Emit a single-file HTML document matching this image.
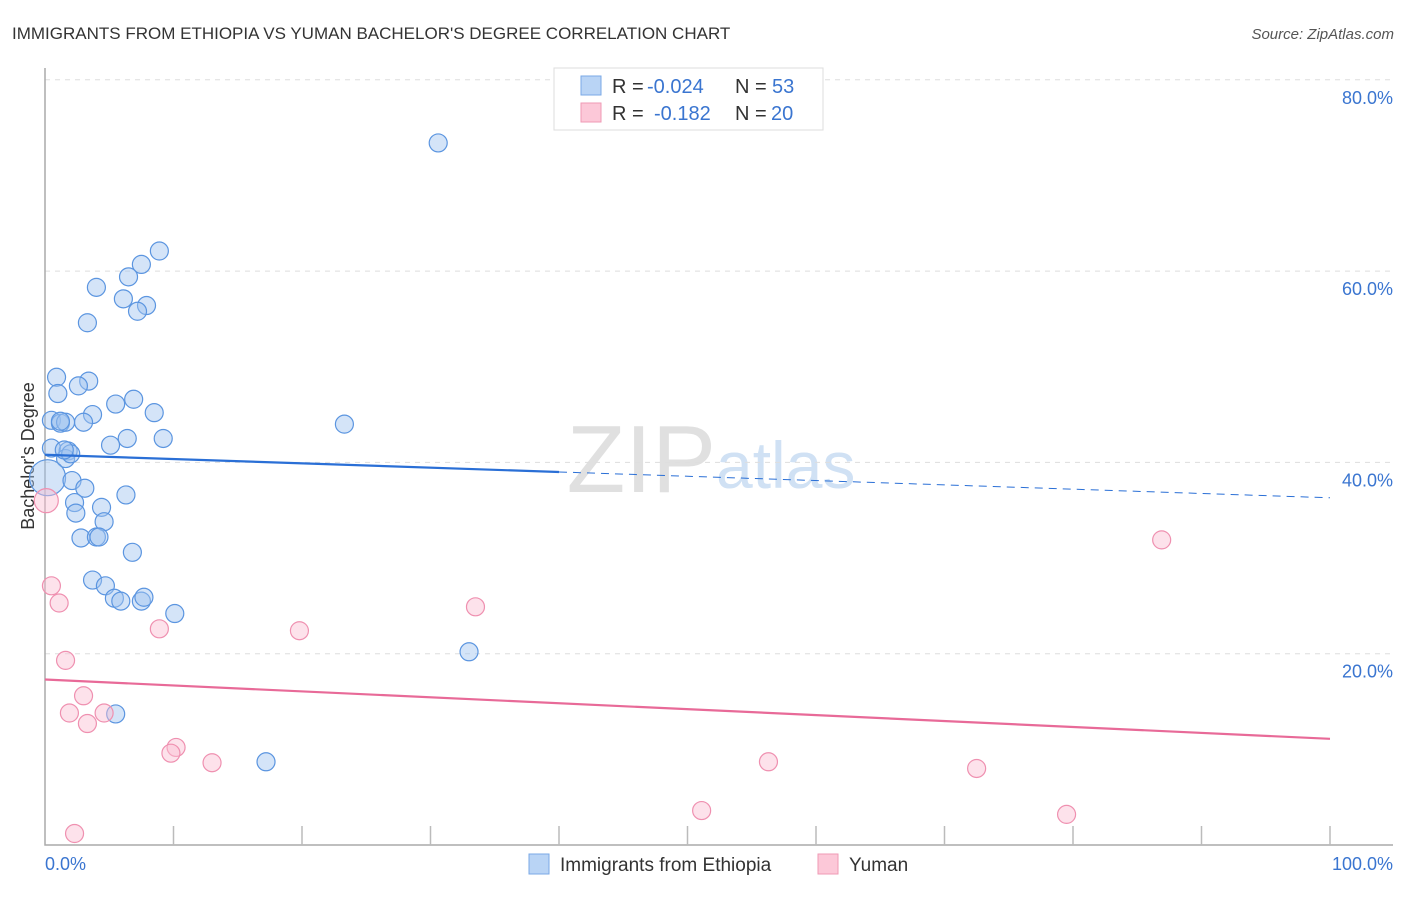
<!DOCTYPE html>
<html><head><meta charset="utf-8"><style>
body{margin:0;background:#fff;font-family:"Liberation Sans",sans-serif}
svg text{font-family:"Liberation Sans",sans-serif}
</style></head><body>
<svg id="c" width="1406" height="892" xmlns="http://www.w3.org/2000/svg">
<text x="12" y="39" font-size="17" fill="#333">IMMIGRANTS FROM ETHIOPIA VS YUMAN BACHELOR'S DEGREE CORRELATION CHART</text>
<text x="1394" y="39" font-size="15" fill="#555" text-anchor="end" font-style="italic">Source: ZipAtlas.com</text>
<text x="716" y="492" font-size="96" fill="#e0e0e0" text-anchor="end" font-family="Liberation Serif">ZIP</text>
<text x="716" y="488" font-size="66" fill="#d0e1f4">atlas</text>
<text transform="translate(34,456) rotate(-90)" font-size="18" fill="#333" text-anchor="middle">Bachelor's Degree</text>
<g id="grid"></g><g id="axes"></g><g id="pts"></g><g id="trend"></g>
<g>
<rect x="554" y="68" width="269" height="62" fill="#fff" stroke="#ddd"/>
<rect x="581" y="76" width="20" height="19" fill="#b9d4f5" stroke="#7aa8e6"/>
<rect x="581" y="103" width="20" height="19" fill="#fcc8d8" stroke="#ef9ab5"/>
<text y="93" font-size="20" fill="#333"><tspan x="612">R =</tspan><tspan x="647" fill="#3a75d0">-0.024</tspan><tspan x="735">N =</tspan><tspan x="772" fill="#3a75d0">53</tspan></text>
<text y="120" font-size="20" fill="#333"><tspan x="612">R =</tspan><tspan x="654" fill="#3a75d0">-0.182</tspan><tspan x="735">N =</tspan><tspan x="771" fill="#3a75d0">20</tspan></text>
</g>
<g>
<rect x="529" y="854" width="20" height="20" fill="#b9d4f5" stroke="#7aa8e6"/>
<text x="560" y="871" font-size="19" fill="#333">Immigrants from Ethiopia</text>
<rect x="818" y="854" width="20" height="20" fill="#fcc8d8" stroke="#ef9ab5"/>
<text x="849" y="871" font-size="19" fill="#333">Yuman</text>
</g>
</svg>
<script>
const yTicks=[20,40,60,80];
const yTickLabels=["20.0%","40.0%","60.0%","80.0%"];
const blueX=[30.6,8.9,7.5,6.5,4.0,6.1,7.9,7.2,3.3,0.9,3.4,2.6,1.0,5.5,6.9,8.5,3.7,3.0,0.5,1.2,1.6,9.2,6.4,5.1,23.3,0.5,1.8,1.6,0.2,2.1,3.1,6.3,2.3,4.4,2.4,4.6,2.8,4.0,4.2,6.8,3.7,4.7,5.4,5.9,7.5,7.7,10.1,33.0,5.5,17.2,1.2,2.0,1.5];
const blueY=[73.4,62.1,60.7,59.4,58.3,57.1,56.4,55.8,54.6,48.9,48.5,48.0,47.2,46.1,46.6,45.2,45.0,44.2,44.4,44.1,44.2,42.5,42.5,41.8,44.0,41.5,41.2,40.4,38.4,38.1,37.3,36.6,35.8,35.3,34.7,33.8,32.1,32.2,32.2,30.6,27.7,27.1,25.8,25.5,25.5,25.9,24.2,20.2,13.7,8.7,44.3,40.9,41.3];
const blueR=[9,9,9,9,9,9,9,9,9,9,9,9,9,9,9,9,9,9,9,9,9,9,9,9,9,9,9,9,18,9,9,9,9,9,9,9,9,9,9,9,9,9,9,9,9,9,9,9,9,9,9,9,9];
const pinkX=[0.1,0.5,1.1,1.6,8.9,19.8,33.5,3.0,1.9,3.3,4.6,10.2,9.8,13.0,56.3,72.5,51.1,79.5,2.3,86.9];
const pinkY=[36.0,27.1,25.3,19.3,22.6,22.4,24.9,15.6,13.8,12.7,13.8,10.2,9.6,8.6,8.7,8.0,3.6,3.2,1.2,31.9];
const pinkR=[12,9,9,9,9,9,9,9,9,9,9,9,9,9,9,9,9,9,9,9];
const blueTrend=[40.8,36.3];
const pinkTrend=[17.3,11.1];
const NS="http://www.w3.org/2000/svg";
const X=v=>45+v*12.85, Y=v=>845-v*9.565;
function mk(p,t,a){const e=document.createElementNS(NS,t);for(const k in a)e.setAttribute(k,a[k]);document.getElementById(p).appendChild(e);return e;}
yTicks.forEach((t,i)=>{
 const l=mk('grid','line',{x1:45,x2:1393,y1:Y(t),y2:Y(t),stroke:'#ddd','stroke-dasharray':'5,5'});
 
 
 const tx=mk('grid','text',{x:1393,y:Y(t)+24,'font-size':18,fill:'#3a75d0','text-anchor':'end'});
 tx.textContent=yTickLabels[i];
 
 
});
const ax=mk('axes','path',{d:'M45,68V845H1393',fill:'none',stroke:'#aaa','stroke-width':1.5});


for(let i=1;i<=10;i++){const t=mk('axes','line',{x1:X(i*10),x2:X(i*10),y1:826,y2:845,stroke:'#bbb','stroke-width':1.5});
 
 }
[[45,'start','0.0%'],[1393,'end','100.0%']].forEach(a=>{const t=mk('axes','text',{x:a[0],y:870,'font-size':18,fill:'#3a75d0','text-anchor':a[1]});t.textContent=a[2];
 
 });
blueX.forEach((v,i)=>{const c=mk('pts','circle',{cx:X(v),cy:Y(blueY[i]),r:blueR[i],fill:'rgba(160,196,240,0.45)',stroke:'#5b95e0','stroke-width':1.2});
 
 });
pinkX.forEach((v,i)=>{const c=mk('pts','circle',{cx:X(v),cy:Y(pinkY[i]),r:pinkR[i],fill:'rgba(250,190,210,0.45)',stroke:'#ef90b0','stroke-width':1.2});
 
 });
const by=x=>blueTrend[0]+(blueTrend[1]-blueTrend[0])*x/100;
let l1=mk('trend','line',{x1:X(0),y1:Y(by(0)),x2:X(40),y2:Y(by(40)),stroke:'#2a6fd6','stroke-width':2.2});


let l2=mk('trend','line',{x1:X(40),y1:Y(by(40)),x2:X(100),y2:Y(by(100)),stroke:'#2a6fd6','stroke-width':1,'stroke-dasharray':'8,6'});


let l3=mk('trend','line',{x1:X(0),y1:Y(pinkTrend[0]),x2:X(100),y2:Y(pinkTrend[1]),stroke:'#e86a98','stroke-width':2.2});


</script>
</body></html>
